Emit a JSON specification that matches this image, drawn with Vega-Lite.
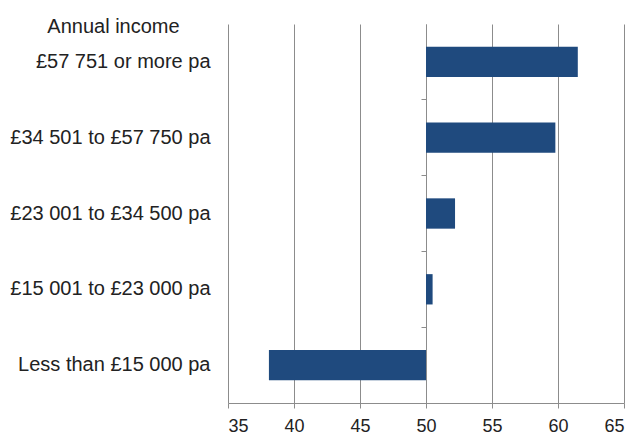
{
  "$schema": "https://vega.github.io/schema/vega-lite/v6.json",
  "width": 396,
  "height": 379,
  "autosize": {"type": "none"},
  "padding": {"left": 228, "top": 24, "right": 11, "bottom": 31},
  "background": "white",
  "config": {
    "view": {"stroke": null},
    "font": "Liberation Sans"
  },
  "data": {
    "values": [
      {"income": "£57 751 or more pa", "value": 61.5},
      {"income": "£34 501 to £57 750 pa", "value": 59.8},
      {"income": "£23 001 to £34 500 pa", "value": 52.2},
      {"income": "£15 001 to £23 000 pa", "value": 50.5},
      {"income": "Less than £15 000 pa", "value": 38.1}
    ]
  },
  "layer": [
    {
      "mark": {"type": "bar", "opacity": 0},
      "encoding": {
        "x": {"datum": 50, "type": "quantitative"},
        "y": {
          "field": "income",
          "type": "nominal",
          "sort": null,
          "scale": {"paddingInner": 0, "paddingOuter": 0},
          "axis": {
            "orient": "left",
            "offset": -198,
            "title": null,
            "labels": false,
            "grid": false,
            "domain": true,
            "domainColor": "#8c8c8c",
            "domainWidth": 1,
            "ticks": true,
            "tickColor": "#8c8c8c",
            "tickSize": 5,
            "bandPosition": 0,
            "values": ["£34 501 to £57 750 pa", "£23 001 to £34 500 pa", "£15 001 to £23 000 pa", "Less than £15 000 pa"]
          }
        }
      }
    },
    {
      "mark": {"type": "bar", "color": "#1F4A7E"},
      "encoding": {
        "y": {
          "field": "income",
          "type": "nominal",
          "sort": null,
          "scale": {"paddingInner": 0.6, "paddingOuter": 0.3},
          "axis": {
            "orient": "left",
            "title": "Annual income",
            "titleAngle": 0,
            "titleAlign": "center",
            "titleBaseline": "alphabetic",
            "titleX": -115,
            "titleY": 8,
            "titleFontSize": 20,
            "titleFontWeight": "normal",
            "titleColor": "#222222",
            "domain": false,
            "ticks": false,
            "grid": false,
            "labelPadding": 18,
            "labelFontSize": 20,
            "labelColor": "#222222",
            "labelLimit": 300
          }
        },
        "x": {
          "field": "value",
          "type": "quantitative",
          "scale": {"domain": [35, 65], "nice": false, "zero": false},
          "axis": {
            "title": null,
            "values": [35, 40, 45, 50, 55, 60, 65],
            "grid": true,
            "gridColor": "#8c8c8c",
            "gridWidth": 1,
            "domainColor": "#8c8c8c",
            "tickColor": "#8c8c8c",
            "tickSize": 5,
            "labelPadding": 9,
            "labelFontSize": 18,
            "labelColor": "#222222"
          }
        },
        "x2": {"datum": 50}
      }
    }
  ],
  "resolve": {"scale": {"y": "independent"}, "axis": {"y": "independent"}}
}
